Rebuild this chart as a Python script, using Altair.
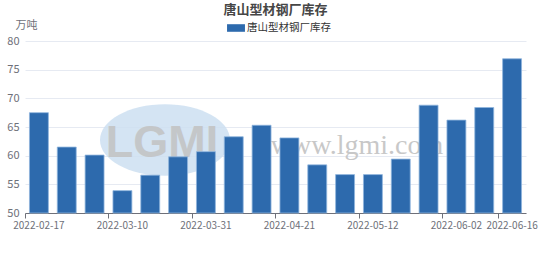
import altair as alt
import pandas as pd

dates = ["2022-02-17", "2022-02-24", "2022-03-03", "2022-03-10", "2022-03-17", "2022-03-24",
         "2022-03-31", "2022-04-07", "2022-04-14", "2022-04-21", "2022-04-28", "2022-05-05",
         "2022-05-12", "2022-05-19", "2022-05-26", "2022-06-02", "2022-06-09", "2022-06-16"]
values = [67.5, 61.5, 60.1, 53.9, 56.6, 59.8, 60.7, 63.3, 65.3, 63.1, 58.4, 56.7,
          56.7, 59.4, 68.8, 66.2, 68.4, 76.9]
series_name = "唐山型材钢厂库存"
shown_labels = ["2022-02-17", "2022-03-10", "2022-03-31", "2022-04-21", "2022-05-12",
                "2022-06-02", "2022-06-16"]
y_ticks = [50, 55, 60, 65, 70, 75, 80]

FONT = "Noto Sans CJK SC"
W, H = 501, 172

df = pd.DataFrame({"date": dates, "value": values, "series": [series_name] * len(dates)})
one = pd.DataFrame({"k": [0]})

ellipse = alt.Chart(one).mark_point(
    shape="M -1 0 A 1 0.55 0 1 0 1 0 A 1 0.55 0 1 0 -1 0 Z",
    filled=True, color="#cddff1", opacity=0.85, size=16900
).encode(x=alt.value(140), y=alt.value(99))

logo = alt.Chart(one).mark_text(
    text="LGMI", font="Liberation Sans", fontSize=45, fontWeight="bold",
    color="#c2c2c2", opacity=0.85, align="center", baseline="middle"
).encode(x=alt.value(137), y=alt.value(102))

web = alt.Chart(one).mark_text(
    text="www.lgmi.com", font="Liberation Serif", fontSize=28,
    color="#c8c8c8", align="center", baseline="middle"
).encode(x=alt.value(332), y=alt.value(105))

bars = alt.Chart(df).mark_bar(
    width=alt.RelativeBandSize(0.68), stroke="#8fb5dd", strokeWidth=0.8
).encode(
    x=alt.X("date:O", sort=dates,
            scale=alt.Scale(paddingInner=0, paddingOuter=0),
            axis=alt.Axis(values=shown_labels, bandPosition=0,
                          labelAngle=0, tickSize=5, tickColor="#6e7079",
                          domainColor="#6e7079", labelColor="#6e7079",
                          labelFontSize=10, labelFont=FONT, labelPadding=2,
                          title=None, grid=False, labelOverlap=False)),
    y=alt.Y("value:Q",
            scale=alt.Scale(domain=[50, 80], zero=False, nice=False),
            axis=alt.Axis(values=y_ticks, domain=False, ticks=False, grid=True,
                          gridColor="#e6eaf2", labelColor="#6e7079", labelFontSize=11,
                          labelFont=FONT, labelPadding=6,
                          title="万吨", titleAngle=0, titleFont=FONT, titleFontSize=11,
                          titleFontWeight="normal", titleColor="#6e7079",
                          titleAlign="center", titleBaseline="middle",
                          titleX=1, titleY=-16)),
    y2=alt.datum(50),
    color=alt.Color("series:N", scale=alt.Scale(range=["#2d6aad"]),
                    legend=alt.Legend(title=None, orient="none", legendX=204, legendY=-20,
                                      symbolType="M -1.3 -0.55 L 1.3 -0.55 L 1.3 0.55 L -1.3 0.55 Z",
                                      symbolSize=190, symbolStrokeWidth=0,
                                      labelFont=FONT, labelFontSize=10.5, labelColor="#333333")),
)

chart = alt.layer(ellipse, logo, web, bars).properties(
    width=W, height=H,
    title=alt.TitleParams(series_name, anchor="middle", font=FONT, fontSize=13,
                          fontWeight="bold", color="#464646", offset=8, dy=6),
    autosize=alt.AutoSizeParams(type="none"),
    padding={"left": 25, "top": 41, "right": 28, "bottom": 56},
).configure_view(stroke=None)

chart.save("out.html", embed_options={"renderer": "svg", "actions": False})
